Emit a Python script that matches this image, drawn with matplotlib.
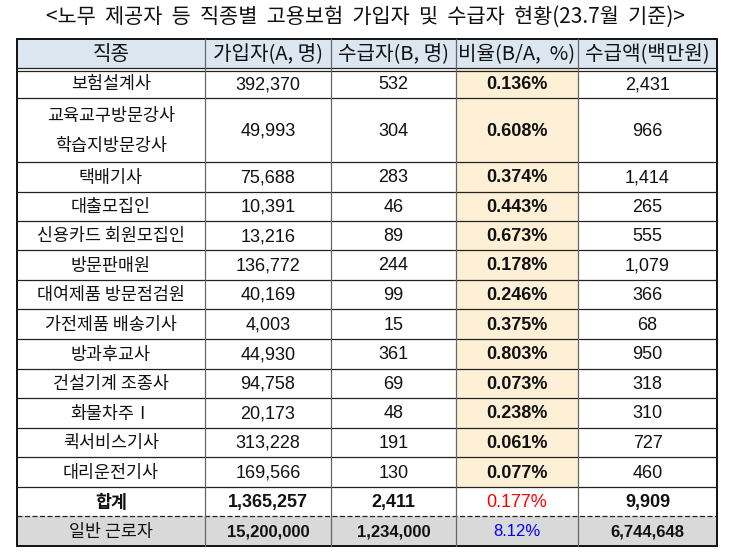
import matplotlib.pyplot as plt
from matplotlib.patches import Rectangle

# table content
title = '<노무  제공자  등  직종별  고용보험  가입자  및  수급자  현황(23.7월  기준)>'
headers = ['직종', '가입자(A, 명)', '수급자(B, 명)', '비율(B/A,  %)', '수급액(백만원)']
jobs = ['보험설계사', '교육교구방문강사\n학습지방문강사', '택배기사', '대출모집인',
        '신용카드 회원모집인', '방문판매원', '대여제품 방문점검원', '가전제품 배송기사',
        '방과후교사', '건설기계 조종사', '화물차주Ⅰ', '퀵서비스기사', '대리운전기사',
        '합계', '일반 근로자']
insured = ['392,370', '49,993', '75,688', '10,391', '13,216', '136,772', '40,169',
           '4,003', '44,930', '94,758', '20,173', '313,228', '169,566',
           '1,365,257', '15,200,000']
recipients = ['532', '304', '283', '46', '89', '244', '99', '15', '361', '69', '48',
              '191', '130', '2,411', '1,234,000']
ratio = ['0.136%', '0.608%', '0.374%', '0.443%', '0.673%', '0.178%', '0.246%',
         '0.375%', '0.803%', '0.073%', '0.238%', '0.061%', '0.077%', '0.177%', '8.12%']
amount = ['2,431', '966', '1,414', '265', '555', '1,079', '366', '68', '950', '318',
          '310', '727', '460', '9,909', '6,744,648']

# layout (pixels)
col_x = [17, 205, 331, 456, 578, 717]
row_y = [39, 69, 98, 162, 191.5, 221, 250, 279.5, 309, 339, 368.5, 398, 427.5, 457, 487, 516, 546]

kr = ['Noto Sans CJK KR', 'DejaVu Sans']
num = ['Liberation Sans', 'Noto Sans CJK KR']

fig = plt.figure(figsize=(7.3, 5.58), dpi=100)
ax = fig.add_axes([0, 0, 1, 1])
ax.set_xlim(0, 730)
ax.set_ylim(558, 0)
ax.axis('off')

ax.text(365, 17, title, ha='center', va='center', fontsize=15,
        family=kr, fontweight='medium', color='#111111')

# backgrounds
ax.add_patch(Rectangle((col_x[0], row_y[0]), col_x[-1] - col_x[0], row_y[1] - row_y[0],
                       facecolor='#dce6f1', edgecolor='none'))
ax.add_patch(Rectangle((col_x[3], row_y[1]), col_x[4] - col_x[3], row_y[14] - row_y[1],
                       facecolor='#fdf0d6', edgecolor='none'))
ax.add_patch(Rectangle((col_x[0], row_y[15]), col_x[-1] - col_x[0], row_y[16] - row_y[15],
                       facecolor='#d9d9d9', edgecolor='none'))

# header text
for j, h in enumerate(headers):
    cx = (col_x[j] + col_x[j + 1]) / 2
    ax.text(cx, (row_y[0] + row_y[1]) / 2 + 1, h, ha='center', va='center',
            fontsize=14.5, family=kr, color='#111111')

# body text
columns = [jobs, insured, recipients, ratio, amount]
n = len(jobs)
for i in range(n):
    cy = (row_y[i + 1] + row_y[i + 2]) / 2 + 1
    for j, col in enumerate(columns):
        cx = (col_x[j] + col_x[j + 1]) / 2
        weight = 'normal'
        color = '#111111'
        fam = kr if j == 0 else num
        size = 12.5 if j == 0 else 13
        if j == 3:
            weight = 'bold'
        if i >= n - 2:
            weight = 'bold'
        if i == n - 1:
            size = 12.5 if j == 0 else 12
        if i == n - 1 and j == 0:
            weight = 'normal'
        if j == 3 and i == n - 2:
            color = '#ff0000'
            weight = 'normal'
        if j == 3 and i == n - 1:
            color = '#0000ff'
            weight = 'normal'
        ax.text(cx, cy, col[i], ha='center', va='center', fontsize=size,
                family=fam, color=color, fontweight=weight, linespacing=1.9)

# grid lines
x0, x1 = col_x[0], col_x[-1]
for k, y in enumerate(row_y[2:-1], start=2):
    if k == 15:
        ax.plot([x0, x1], [y, y], color='#222222', lw=0.9, ls=(0, (4, 2)))
    else:
        ax.plot([x0, x1], [y, y], color='#222222', lw=0.9)
# double line under header
ax.plot([x0, x1], [row_y[1] - 1.5, row_y[1] - 1.5], color='#222222', lw=0.9)
ax.plot([x0, x1], [row_y[1] + 1.5, row_y[1] + 1.5], color='#222222', lw=0.9)
for x in col_x[1:-1]:
    ax.plot([x, x], [row_y[0], row_y[-1]], color='#666666', lw=0.9)
# outer border
ax.add_patch(Rectangle((x0, row_y[0]), x1 - x0, row_y[-1] - row_y[0],
                       facecolor='none', edgecolor='#111111', lw=1.4))

fig.savefig('out.png', dpi=100)
